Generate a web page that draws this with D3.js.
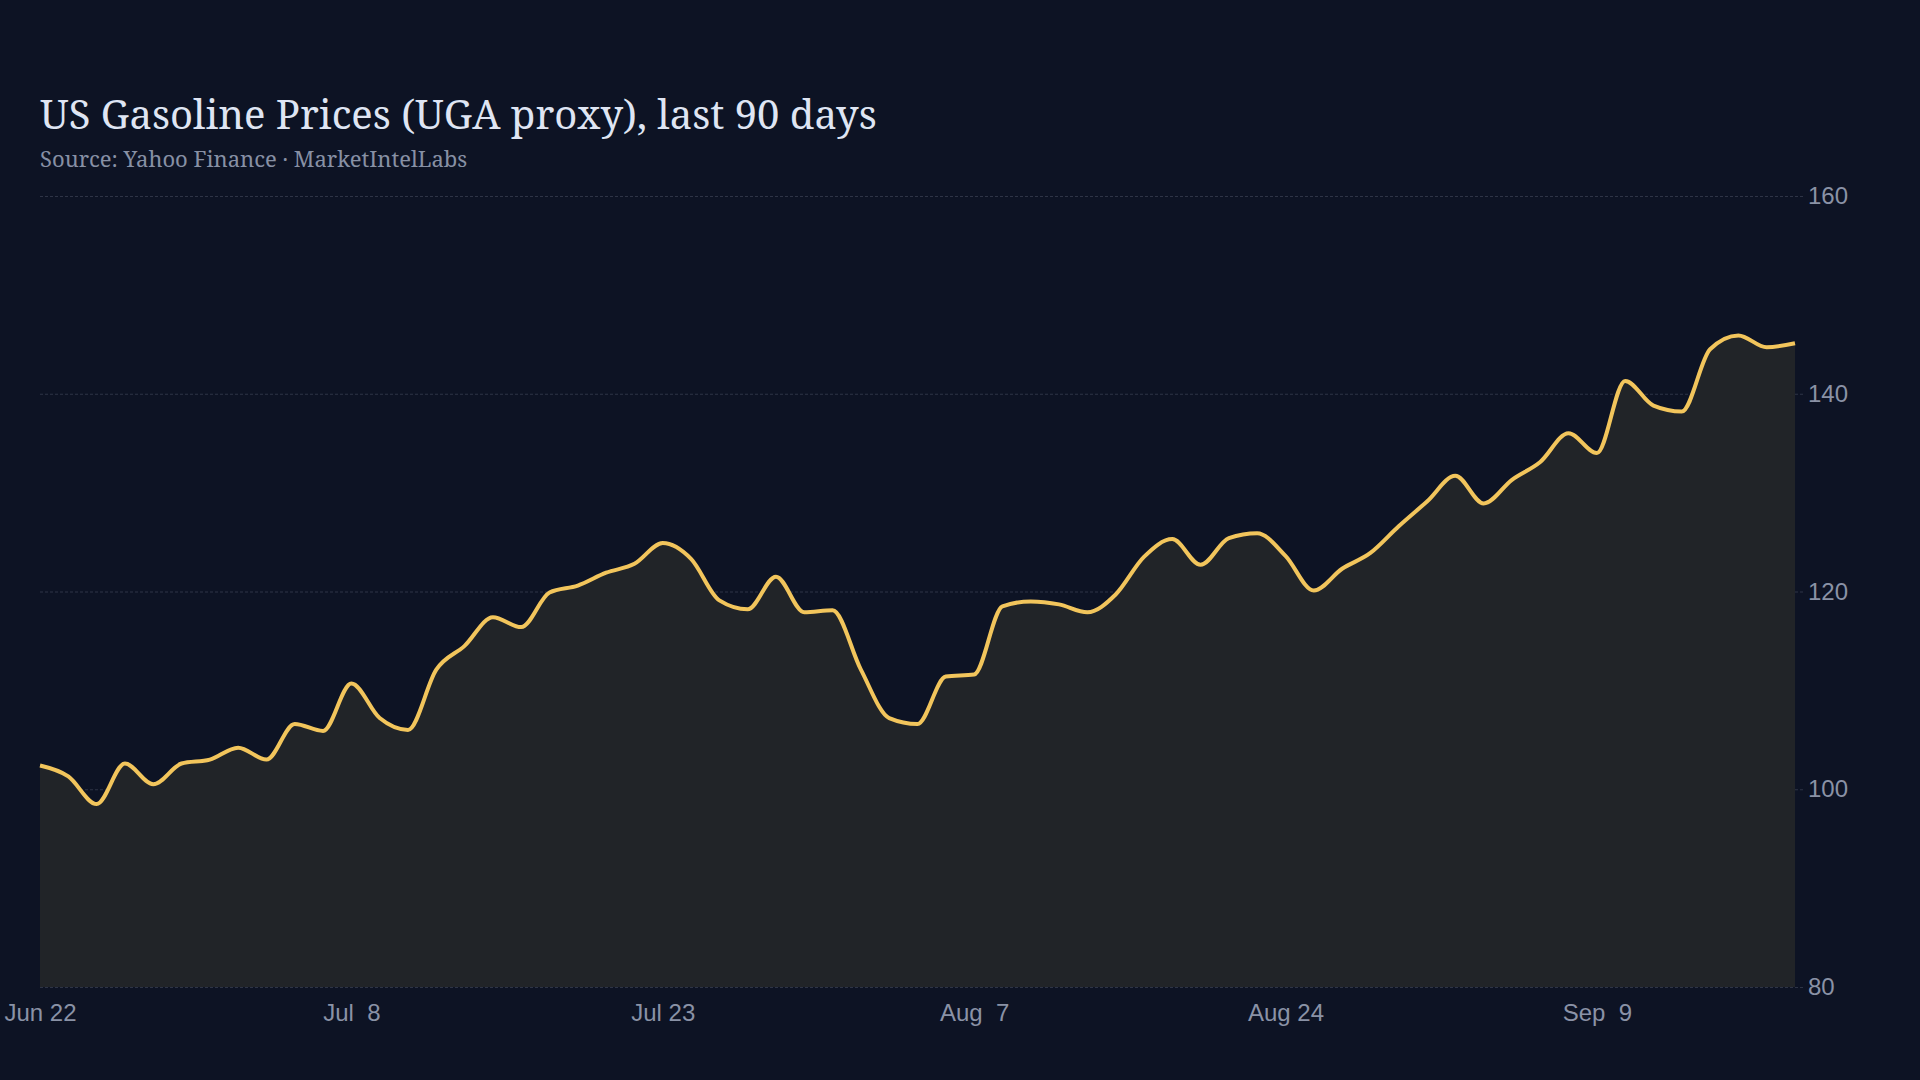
<!DOCTYPE html>
<html>

<head>
	<meta charset='utf-8' />
	<title>US Gasoline Prices</title>
	<script src="https://d3js.org/d3.v7.min.js"></script>
	<style>
		body {
			margin: 0;
			background-color: #0d1324;
		}

		.svg {
			display: block;
		}

		.title {
			font-family: "Noto Serif", "DejaVu Serif Condensed", "DejaVu Serif", serif;
			font-size: 40px;
			fill: #dfe5f3;
		}

		.subtitle {
			font-family: "Noto Serif", "DejaVu Serif Condensed", "DejaVu Serif", serif;
			font-size: 22px;
			fill: #8790a4;
		}

		.axis text {
			font-family: "Liberation Sans", Arial, sans-serif;
			font-size: 24px;
			fill: #8a92a6;
			white-space: pre;
		}
	</style>
</head>

<body>

	<svg id="chart" class="svg" width="1920" height="1080"></svg>

	<script>
		// UGA close, one value per trading day
		var prices = [
			102.4, 101.3, 98.5, 102.6, 100.5, 102.6, 103.0, 104.2, 103.0, 106.6,
			105.9, 110.7, 107.2, 106.0, 112.1, 114.5, 117.4, 116.4, 119.9, 120.6,
			121.9, 122.8, 124.9, 123.3, 119.1, 118.2, 121.5, 117.9, 118.1, 112.1,
			107.2, 106.6, 111.4, 111.6, 118.5, 119.0, 118.7, 117.9, 119.7, 123.5,
			125.3, 122.7, 125.4, 125.9, 123.6, 120.1, 122.3, 123.9, 126.6, 129.1,
			131.7, 128.9, 131.3, 133.1, 136.0, 134.0, 141.3, 138.8, 138.2, 144.5,
			145.9, 144.7, 145.1
		];

		var tickIndex = [0, 11, 22, 33, 44, 55];
		var tickLabels = ["Jun 22", "Jul  8", "Jul 23", "Aug  7", "Aug 24", "Sep  9"];
		var yTicks = [80, 100, 120, 140, 160];

		var svg = d3.select("#chart"),
			margin = { top: 196, left: 40, bottom: 93, right: 125 },
			width = +svg.attr("width"),
			height = +svg.attr("height");

		var x = d3.scaleLinear()
			.domain([0, prices.length - 1])
			.range([margin.left, width - margin.right])

		var y = d3.scaleLinear()
			.domain([80, 160])
			.range([height - margin.bottom, margin.top])

		svg.append("text")
			.attr("class", "title")
			.attr("x", 40)
			.attr("y", 129)
			.text("US Gasoline Prices (UGA proxy), last 90 days")

		svg.append("text")
			.attr("class", "subtitle")
			.attr("x", 40)
			.attr("y", 167)
			.text("Source: Yahoo Finance · MarketIntelLabs")

		// grid + right labels
		var yAxis = svg.append("g")
			.attr("class", "axis y-axis")
			.attr("transform", `translate(${width - margin.right + 8},0)`)
			.call(d3.axisRight(y)
				.tickValues(yTicks)
				.tickSize(-(width - margin.right + 8 - margin.left))
				.tickPadding(5)
				.tickFormat(d3.format("d")))

		yAxis.select(".domain").remove()
		yAxis.selectAll("line")
			.attr("stroke", "#2e3446")
			.attr("stroke-dasharray", "3,2")

		var area = d3.area()
			.x((d, i) => x(i))
			.y0(y(80))
			.y1(d => y(d))
			.curve(d3.curveMonotoneX)

		var line = d3.line()
			.x((d, i) => x(i))
			.y(d => y(d))
			.curve(d3.curveMonotoneX)

		svg.append("path")
			.datum(prices)
			.attr("fill", "#212428")
			.attr("d", area)

		svg.append("path")
			.datum(prices)
			.attr("fill", "none")
			.attr("stroke", "#f2c55c")
			.attr("stroke-width", 4)
			.attr("stroke-linejoin", "round")
			.attr("d", line)

		var xAxis = svg.append("g")
			.attr("class", "axis x-axis")
			.attr("transform", `translate(0,${height - margin.bottom})`)
			.call(d3.axisBottom(x)
				.tickValues(tickIndex)
				.tickSize(0)
				.tickPadding(17)
				.tickFormat((d, i) => tickLabels[i]))

		xAxis.select(".domain").remove()
	</script>

</body>

</html>
